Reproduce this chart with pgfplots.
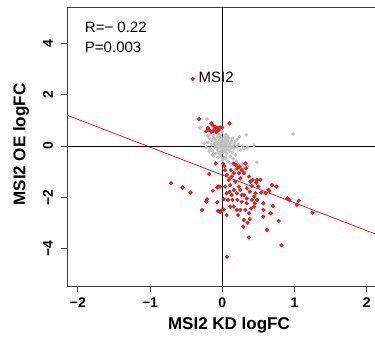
\documentclass[border=0pt]{standalone}
\usepackage{pgfplots}
\pgfplotsset{compat=1.18}
\usepackage{fontspec}
\setmainfont{Liberation Sans}
\definecolor{redpt}{RGB}{228,30,38}
\definecolor{graypt}{RGB}{192,192,192}
\definecolor{boxcol}{RGB}{60,60,60}
\begin{document}
\begin{tikzpicture}
\path[use as bounding box] (-67pt,-53pt) rectangle (308pt,286pt);
\begin{axis}[
  at={(0pt,0pt)}, anchor=south west,
  scale only axis, width=308pt, height=279pt,
  xmin=-2.15, xmax=2.115, ymin=-5.45, ymax=5.41,
  axis line style={boxcol, line width=0.9pt},
  tick style={boxcol, line width=0.9pt},
  tick align=outside, tick pos=left, major tick length=6pt,
  xtick={-2,-1,0,1,2}, xticklabels={−2,−1,0,1,2},
  ytick={-4,-2,0,2,4}, yticklabels={−4,−2,0,2,4},
  ticklabel style={font=\bfseries\fontsize{14}{14}\selectfont, inner sep=0pt},
  xticklabel style={anchor=center, yshift=-11pt},
  yticklabel style={xshift=-13pt, rotate=90, anchor=center},
  xlabel={MSI2 KD logFC}, ylabel={MSI2 OE logFC},
  every axis x label/.style={at={(axis description cs:0.5,0)}, yshift=-39pt, xshift=8pt, anchor=center, font=\bfseries\fontsize{17}{17}\selectfont},
  every axis y label/.style={at={(axis description cs:0,0.5)}, xshift=-46pt, yshift=2pt, rotate=90, anchor=center, font=\bfseries\fontsize{17}{17}\selectfont},
  clip=true,
]
% gray (non-significant) genes
\addplot[only marks, mark=*, mark size=1.6pt, color=graypt, mark options={draw=graypt, fill=graypt}] coordinates {
(-0.21,1.05) (-0.31,0.7) (0.98,0.47) (0.44,0.03) (0.48,-0.64) (0.33,0.43) (0.24,0.36) (0.2,0.25)
(-0.25,0.1) (-0.22,-0.05) (-0.2,0.15) (-0.18,0.3) (-0.17,-0.1) (-0.15,0.05) (-0.14,0.2) (-0.13,-0.2)
(-0.12,0.4) (-0.11,0.1) (-0.1,-0.05) (-0.1,0.25) (-0.09,-0.3) (-0.08,0.15) (-0.07,0.0) (-0.07,0.35)
(-0.06,-0.15) (-0.05,0.1) (-0.05,0.45) (-0.04,-0.05) (-0.04,0.22) (-0.03,-0.35) (-0.03,0.05) (-0.02,0.15)
(-0.02,-0.2) (-0.01,0.3) (0.0,0.0) (0.0,-0.1) (0.0,0.1) (0.01,-0.25) (0.01,0.2) (0.02,0.05)
(0.02,-0.45) (0.03,0.35) (0.03,-0.08) (0.04,0.12) (0.04,-0.2) (0.05,0.0) (0.05,0.25) (0.06,-0.3)
(0.06,0.08) (0.07,-0.12) (0.08,0.18) (0.08,-0.05) (0.09,0.3) (0.1,-0.2) (0.1,0.05) (0.11,-0.4)
(0.12,0.12) (0.12,-0.08) (0.13,0.22) (0.14,-0.25) (0.15,0.0) (0.16,-0.1) (0.17,0.1) (0.18,-0.35)
(0.2,-0.05) (0.22,0.05) (0.25,-0.15) (0.28,0.0) (0.3,-0.1) (0.35,-0.05) (-0.06,-0.45) (-0.12,-0.4)
(0.0,-0.55) (0.05,-0.5) (0.15,-0.5) (0.2,-0.6) (0.22,-0.75) (0.25,-0.85) (0.28,-0.7) (0.3,-0.9)
(0.18,-0.9) (0.32,-1.05) (0.35,-0.8) (0.26,-1.0) (-0.16,0.45) (-0.2,0.4) (-0.08,0.5) (0.0,0.55)
(0.05,0.45) (-0.14,-0.35) (-0.18,-0.2) (0.08,-0.6) (0.12,-0.7) (-0.02,0.38) (0.07,0.4) (-0.09,0.05)
(-0.01,-0.05) (0.03,0.18) (0.11,0.0) (0.02,-0.15) (-0.05,-0.25) (0.14,0.3) (0.19,0.2) (0.06,0.3) (-0.11,0.3)
};
% red (significant) genes
\addplot[only marks, mark=*, mark size=1.9pt, color=redpt, mark options={draw=redpt, fill=redpt}] coordinates {
(-0.41,2.61)
(-0.32,1.05) (-0.15,0.88) (-0.13,0.8) (-0.2,0.7) (-0.18,0.62) (-0.12,0.6) (-0.1,0.68) (-0.06,0.7)
(-0.05,0.62) (-0.08,0.55) (-0.03,0.72) (0.0,0.72) (0.1,0.88) (-0.22,0.58) (-0.15,0.55) (-0.1,0.75)
(-0.71,-1.45) (-0.55,-1.62) (-0.44,-1.81) (-0.18,-1.09) (-0.09,-0.68) (-0.28,-2.49) (-0.21,-2.08) (-0.22,-2.17)
(-0.13,-1.74) (-0.07,-1.62) (-0.05,-1.58) (-0.07,-2.19) (-0.06,-2.53) (-0.03,-2.57) (0.0,-2.49) (0.02,-2.47)
(0.06,-2.69) (0.065,-4.31) (0.02,-2.06) (-0.03,-1.58) (0.03,-0.78) (0.01,-0.68) (0.04,-0.94) (0.06,-1.13)
(0.09,-1.32) (0.11,-1.52) (0.1,-1.78) (0.13,-1.91) (0.14,-2.1) (0.16,-2.36) (0.2,-2.49) (0.21,-2.1)
(0.25,-1.71) (0.27,-2.17) (0.3,-1.91) (0.34,-2.23) (0.29,-3.14) (0.35,-2.99) (0.38,-2.84) (0.37,-3.56)
(0.44,-2.36) (0.44,-1.97) (0.48,-2.1) (0.46,-1.84) (0.5,-1.58) (0.53,-1.32) (0.48,-1.32) (0.57,-2.49)
(0.57,-2.23) (0.6,-1.84) (0.64,-1.71) (0.67,-2.62) (0.62,-3.27) (0.69,-1.52) (0.7,-2.34) (0.75,-1.58)
(0.78,-2.92) (0.82,-3.86) (0.9,-2.04) (0.93,-2.1) (1.03,-2.3) (1.06,-2.13) (1.25,-2.6) (0.65,-1.74)
(0.16,-0.68) (0.19,-0.74) (0.21,-0.87) (0.24,-0.81) (0.27,-0.94) (0.32,-0.68) (0.33,-0.87) (0.3,-1.06)
(0.37,-1.19) (0.23,-1.06) (0.16,-1.06) (0.12,-0.94) (0.25,-1.26) (0.18,-1.39) (0.39,-1.39) (0.42,-1.32)
(0.47,-1.43) (0.41,-1.56) (0.34,-1.65) (0.23,-1.58) (0.16,-1.71) (0.27,-1.91) (0.34,-2.04) (0.41,-2.1)
(0.4,-2.43) (0.32,-2.49) (0.25,-2.49) (0.22,-2.69) (0.45,-2.23) (0.11,-2.36) (0.08,-2.1) (0.06,-1.84)
(0.04,-1.58) (0.13,-1.19) (0.2,-1.84) (0.38,-1.78) (0.54,-1.81) (0.37,-2.62) (0.57,-2.75) (0.3,-2.88)
};
% regression line
\addplot[color=redpt, line width=0.8pt] coordinates {(-2.15,1.2) (2.115,-3.42)};
% zero lines
\addplot[black, line width=0.9pt] coordinates {(-2.15,0) (2.115,0)};
\addplot[black, line width=0.9pt] coordinates {(0,-5.45) (0,5.41)};
\node[anchor=west, font=\fontsize{15}{15}\selectfont] at (axis cs:-1.95,4.6) {R=− 0.22};
\node[anchor=west, font=\fontsize{15}{15}\selectfont] at (axis cs:-1.95,3.82) {P=0.003};
\node[anchor=west, font=\fontsize{15}{15}\selectfont, inner sep=0pt] at (axis cs:-0.33,2.68) {MSI2};
\end{axis}
\end{tikzpicture}
\end{document}
